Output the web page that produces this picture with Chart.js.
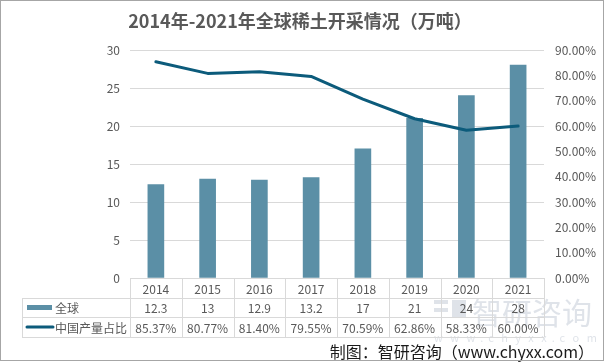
<!DOCTYPE html>
<html lang="zh">
<head>
<meta charset="UTF-8">
<title>2014年-2021年全球稀土开采情况（万吨）</title>
<script src="https://cdn.jsdelivr.net/npm/chart.js"></script>
<style>
  html, body { margin: 0; padding: 0; background: #fff; }
  #wrap { width: 605px; height: 363px; }
</style>
</head>
<body>
<div id="wrap"><canvas id="myChart" width="605" height="363"></canvas></div>
<script>
// datos
const years = ['2014', '2015', '2016', '2017', '2018', '2019', '2020', '2021'];
const globalOutput = [12.3, 13, 12.9, 13.2, 17, 21, 24, 28];       // 全球（万吨）
const chinaShare = [85.37, 80.77, 81.40, 79.55, 70.59, 62.86, 58.33, 60.00]; // 中国产量占比 %
const seriesNames = ['全球', '中国产量占比'];
const titleText = '2014年-2021年全球稀土开采情况（万吨）';
const sourceText = '制图：智研咨询（www.chyxx.com）';

const BAR_COLOR = '#5b8fa6';
const LINE_COLOR = '#0c5b7b';
const GRID_COLOR = '#d9d9d9';
const TEXT_COLOR = '#595959';
const CJK = '"Noto Sans CJK SC", "Noto Sans", sans-serif';

// tabla de datos debajo del eje, como en Excel
const tablePlugin = {
    id: 'dataTable',
    afterDraw(chart) {
        const ctx = chart.ctx;
        const xs = chart.scales.x;
        const area = chart.chartArea;
        const half = (xs.getPixelForValue(1) - xs.getPixelForValue(0)) / 2;
        const left = 22;
        const rows = [area.bottom, 298, 317, 337];

        ctx.save();

        // marca de agua (detras del texto)
        ctx.fillStyle = 'rgba(175, 185, 200, 0.4)';
        ctx.textBaseline = 'middle';
        ctx.textAlign = 'left';
        ctx.font = '30px ' + CJK;
        ctx.fillText('智研咨询', 472, 313);
        ctx.font = '11px ' + CJK;
        ctx.fillText('w   w   w  .  c   h   y   x   x  .  c   o   m', 434, 338);
        ctx.fillRect(434, 300, 14, 4);
        ctx.fillRect(434, 308, 14, 4);
        ctx.fillRect(452, 300, 14, 18);

        ctx.strokeStyle = GRID_COLOR;
        ctx.lineWidth = 1;
        ctx.beginPath();
        ctx.moveTo(area.left, rows[0] + 0.5);
        ctx.lineTo(area.right, rows[0] + 0.5);
        for (let i = 1; i < rows.length; i++) {
            ctx.moveTo(left, rows[i] + 0.5);
            ctx.lineTo(area.right, rows[i] + 0.5);
        }
        ctx.moveTo(left + 0.5, rows[1]);
        ctx.lineTo(left + 0.5, rows[3]);
        for (let i = 0; i <= years.length; i++) {
            const px = Math.round(xs.getPixelForValue(i) - half) + 0.5;
            ctx.moveTo(px, rows[0]);
            ctx.lineTo(px, rows[3]);
        }
        ctx.stroke();

        ctx.fillStyle = TEXT_COLOR;
        ctx.textAlign = 'center';
        ctx.font = '12px ' + CJK;
        years.forEach((y, i) => {
            const cx = xs.getPixelForValue(i);
            ctx.fillText(y, cx, (rows[0] + rows[1]) / 2 + 1);
            ctx.fillText(String(globalOutput[i]), cx, (rows[1] + rows[2]) / 2 + 1);
            ctx.fillText(chinaShare[i].toFixed(2) + '%', cx, (rows[2] + rows[3]) / 2 + 1);
        });

        // leyenda en la primera columna
        ctx.fillStyle = BAR_COLOR;
        ctx.fillRect(27, 305, 25, 5);
        ctx.strokeStyle = LINE_COLOR;
        ctx.lineWidth = 3;
        ctx.lineCap = 'round';
        ctx.beginPath();
        ctx.moveTo(27, 327);
        ctx.lineTo(53, 327);
        ctx.stroke();
        ctx.fillStyle = TEXT_COLOR;
        ctx.textAlign = 'left';
        ctx.font = '12px ' + CJK;
        ctx.fillText(seriesNames[0], 55, 308);
        ctx.fillText(seriesNames[1], 55, 328);

        // titulo y fuente
        ctx.fillStyle = TEXT_COLOR;
        ctx.textAlign = 'center';
        ctx.font = 'bold 18px ' + CJK;
        ctx.fillText(titleText, 300, 21);
        ctx.fillStyle = '#1a1a1a';
        ctx.textAlign = 'right';
        ctx.font = '16px ' + CJK;
        ctx.fillText(sourceText, 594, 352);

        // borde
        ctx.strokeStyle = '#a6a6a6';
        ctx.lineWidth = 1;
        ctx.strokeRect(0.5, 0.5, 603, 360);
        ctx.restore();
    }
};

const ctx = document.getElementById('myChart').getContext('2d');
new Chart(ctx, {
    data: {
        labels: years,
        datasets: [
            {
                type: 'line',
                label: seriesNames[1],
                data: chinaShare,
                yAxisID: 'y1',
                borderColor: LINE_COLOR,
                borderWidth: 3,
                pointRadius: 0,
                tension: 0,
                borderCapStyle: 'round',
                borderJoinStyle: 'round',
                order: 0
            },
            {
                type: 'bar',
                label: seriesNames[0],
                data: globalOutput,
                yAxisID: 'y',
                backgroundColor: BAR_COLOR,
                barThickness: 16,
                order: 1
            }
        ]
    },
    options: {
        responsive: false,
        animation: false,
        devicePixelRatio: 1,
        layout: { padding: { left: 0, right: 0, top: 50, bottom: 85 } },
        plugins: {
            legend: { display: false },
            title: { display: false },
            tooltip: { enabled: false }
        },
        scales: {
            x: { display: false, offset: true },
            y: {
                position: 'left',
                min: 0, max: 30,
                afterFit(scale) { scale.width = 130; },
                ticks: { stepSize: 5, color: TEXT_COLOR, padding: 10, font: { size: 12, family: CJK } },
                grid: { color: GRID_COLOR, drawTicks: false },
                border: { display: false }
            },
            y1: {
                position: 'right',
                min: 0, max: 90,
                afterFit(scale) { scale.width = 61; },
                ticks: {
                    stepSize: 10, color: TEXT_COLOR, padding: 11,
                    font: { size: 12, family: CJK },
                    callback: v => v.toFixed(2) + '%'
                },
                grid: { display: false, drawTicks: false },
                border: { display: false }
            }
        }
    },
    plugins: [tablePlugin]
});
</script>
</body>
</html>
